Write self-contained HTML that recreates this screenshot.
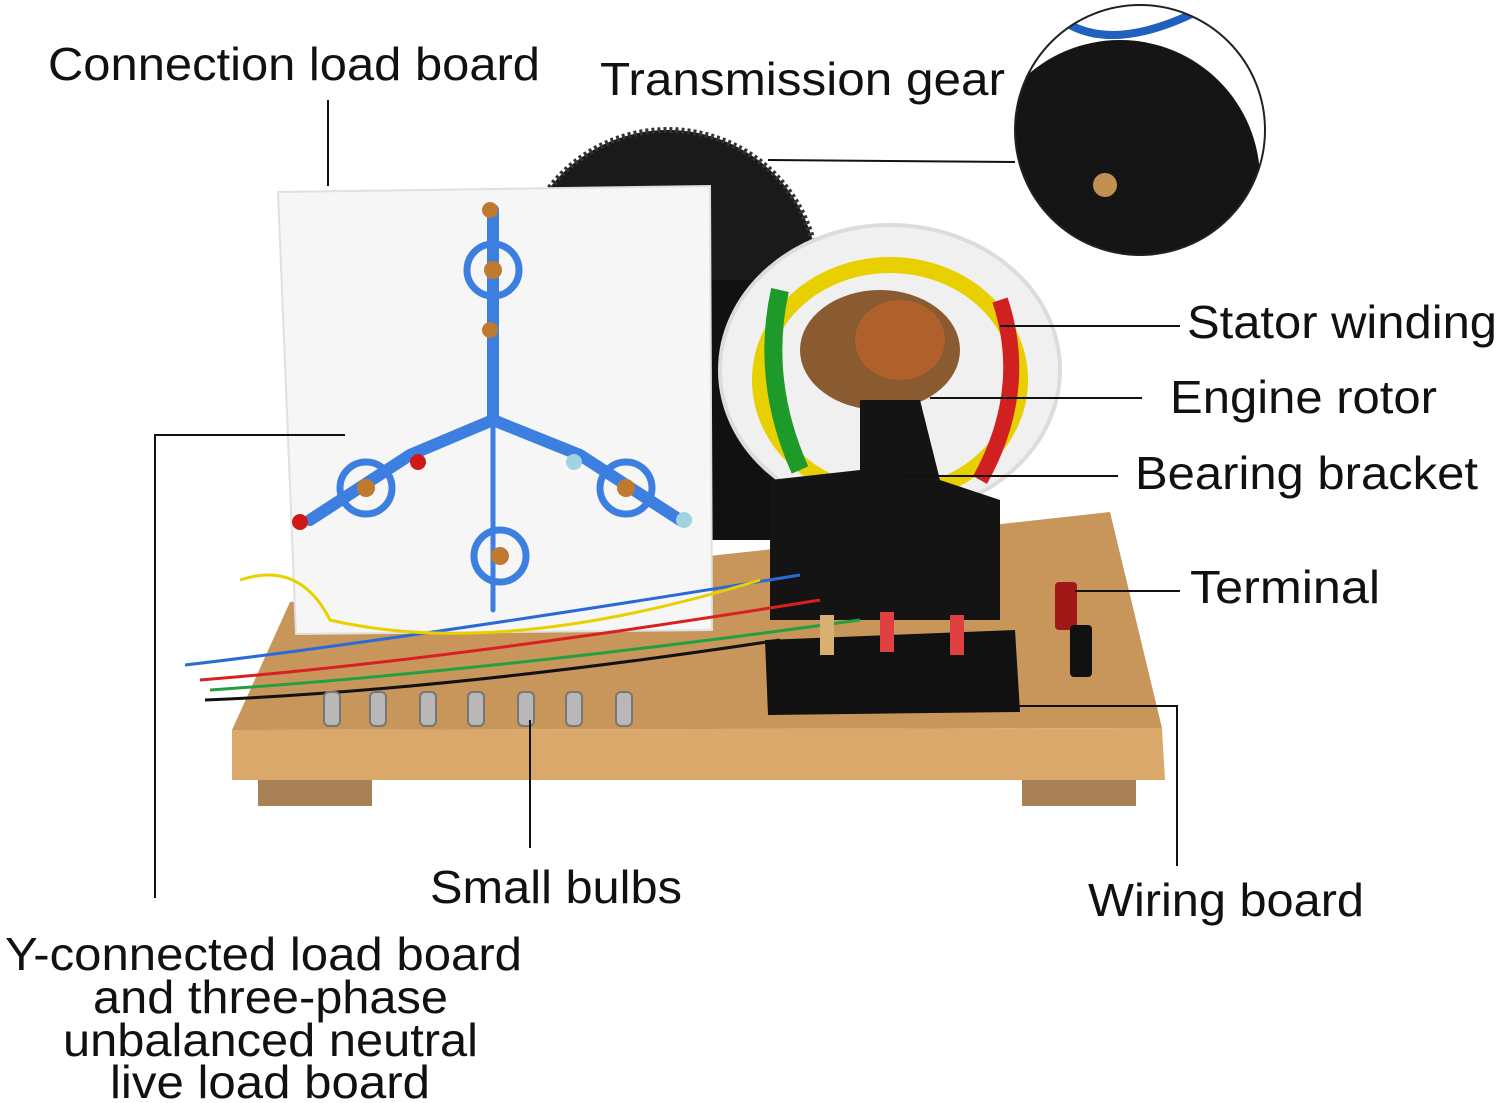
<!DOCTYPE html>
<html><head><meta charset="utf-8"><style>
html,body{margin:0;padding:0;background:#fff;}
svg{display:block;}
text{font-family:"Liberation Sans",sans-serif;font-size:46px;fill:#111;}
</style></head><body>
<svg width="1500" height="1103" viewBox="0 0 1500 1103" xmlns="http://www.w3.org/2000/svg">
<!-- base -->
<polygon points="290,602 1110,512 1162,728 232,730" fill="#c8955a"/>
<polygon points="232,730 1162,728 1165,780 232,780" fill="#d9a86a"/>
<rect x="258" y="780" width="114" height="26" fill="#a88055"/>
<rect x="1022" y="780" width="114" height="26" fill="#a88055"/>
<!-- gear -->
<circle cx="668" cy="280" r="150" fill="#1a1a1a" stroke="#333" stroke-width="6" stroke-dasharray="3 3"/>
<rect x="710" y="280" width="90" height="260" fill="#111"/>
<!-- stator -->
<ellipse cx="890" cy="370" rx="170" ry="145" fill="#f0f0f0" stroke="#dcdcdc" stroke-width="4"/>
<ellipse cx="890" cy="380" rx="130" ry="115" fill="none" stroke="#e8d000" stroke-width="16"/>
<path d="M780,290 Q760,380 800,470" stroke="#1e9a2a" stroke-width="18" fill="none"/>
<path d="M1000,300 Q1030,390 980,480" stroke="#d02020" stroke-width="16" fill="none"/>
<ellipse cx="880" cy="350" rx="80" ry="60" fill="#8a5a30"/>
<ellipse cx="900" cy="340" rx="45" ry="40" fill="#b0602a"/>
<!-- bracket -->
<polygon points="860,400 920,400 940,480 1000,500 1000,620 770,620 770,480 860,470" fill="#141414"/>
<!-- white board -->
<polygon points="278,192 710,186 712,630 296,634" fill="#f6f6f6" stroke="#e0e0e0" stroke-width="2"/>
<g stroke="#3d7fe0" stroke-width="12" fill="none" stroke-linecap="round">
<line x1="493" y1="210" x2="493" y2="420"/>
<polyline points="493,420 410,455 310,520"/>
<polyline points="493,420 580,455 680,520"/>
<line x1="493" y1="420" x2="493" y2="610" stroke-width="5"/>
<circle cx="493" cy="270" r="26" stroke-width="7"/>
<circle cx="366" cy="488" r="26" stroke-width="7"/>
<circle cx="626" cy="488" r="26" stroke-width="7"/>
<circle cx="500" cy="556" r="26" stroke-width="7"/>
</g>
<g fill="#c07a30"><circle cx="493" cy="270" r="9"/><circle cx="366" cy="488" r="9"/><circle cx="626" cy="488" r="9"/><circle cx="500" cy="556" r="9"/><circle cx="490" cy="210" r="8"/><circle cx="490" cy="330" r="8"/></g>
<g fill="#d01818"><circle cx="418" cy="462" r="8"/><circle cx="300" cy="522" r="8"/></g>
<g fill="#9fd4e0"><circle cx="574" cy="462" r="8"/><circle cx="684" cy="520" r="8"/></g>
<!-- wires -->
<g fill="none" stroke-width="3">
<path d="M185,665 Q400,640 800,575" stroke="#2a6ad8"/>
<path d="M200,680 Q450,660 820,600" stroke="#d82020"/>
<path d="M210,690 Q500,670 860,620" stroke="#20a040"/>
<path d="M240,580 Q300,560 330,620 Q500,660 760,580" stroke="#e8d000"/>
<path d="M205,700 Q450,690 780,640" stroke="#111"/>
</g>
<!-- wiring board -->
<polygon points="765,640 1015,630 1020,712 768,715" fill="#111"/>
<rect x="820" y="615" width="14" height="40" fill="#d8b070"/>
<rect x="880" y="612" width="14" height="40" fill="#e04040"/>
<rect x="950" y="615" width="14" height="40" fill="#e04040"/>
<!-- terminals -->
<rect x="1055" y="582" width="22" height="48" rx="4" fill="#a01818"/>
<rect x="1070" y="625" width="22" height="52" rx="4" fill="#111"/>
<!-- bulbs -->
<g fill="#b8b8b8" stroke="#777" stroke-width="2">
<rect x="324" y="692" width="16" height="34" rx="5"/><rect x="370" y="692" width="16" height="34" rx="5"/><rect x="420" y="692" width="16" height="34" rx="5"/><rect x="468" y="692" width="16" height="34" rx="5"/><rect x="518" y="692" width="16" height="34" rx="5"/><rect x="566" y="692" width="16" height="34" rx="5"/><rect x="616" y="692" width="16" height="34" rx="5"/>
</g>
<!-- inset -->
<clipPath id="ic"><circle cx="1140" cy="130" r="125"/></clipPath>
<circle cx="1140" cy="130" r="125" fill="#fff"/>
<g clip-path="url(#ic)"><circle cx="1120" cy="180" r="140" fill="#151515"/><path d="M1050,10 Q1100,60 1200,10" stroke="#2060c0" stroke-width="8" fill="none"/><circle cx="1105" cy="185" r="12" fill="#c09050"/></g>
<circle cx="1140" cy="130" r="125" fill="none" stroke="#222" stroke-width="2"/>
<!-- leader lines -->
<g stroke="#111" stroke-width="2" fill="none">
<line x1="328" y1="100" x2="328" y2="186"/>
<line x1="768" y1="160" x2="1015" y2="162"/>
<line x1="1000" y1="326" x2="1180" y2="326"/>
<line x1="930" y1="398" x2="1142" y2="398"/>
<line x1="905" y1="476" x2="1118" y2="476"/>
<line x1="1075" y1="591" x2="1180" y2="591"/>
<polyline points="1010,706 1177,706 1177,866"/>
<line x1="530" y1="720" x2="530" y2="848"/>
<polyline points="345,435 155,435 155,898"/>
</g>
<text x="48" y="80" textLength="492" lengthAdjust="spacingAndGlyphs">Connection load board</text>
<text x="600" y="95" textLength="405" lengthAdjust="spacingAndGlyphs">Transmission gear</text>
<text x="1187" y="338" textLength="310" lengthAdjust="spacingAndGlyphs">Stator winding</text>
<text x="1170" y="413" textLength="267" lengthAdjust="spacingAndGlyphs">Engine rotor</text>
<text x="1135" y="489" textLength="343" lengthAdjust="spacingAndGlyphs">Bearing bracket</text>
<text x="1190" y="603" textLength="190" lengthAdjust="spacingAndGlyphs">Terminal</text>
<text x="430" y="903" textLength="252" lengthAdjust="spacingAndGlyphs">Small bulbs</text>
<text x="1088" y="916" textLength="276" lengthAdjust="spacingAndGlyphs">Wiring board</text>
<text x="5" y="970" textLength="517" lengthAdjust="spacingAndGlyphs">Y-connected load board</text>
<text x="93" y="1013" textLength="355" lengthAdjust="spacingAndGlyphs">and three-phase</text>
<text x="63" y="1056" textLength="415" lengthAdjust="spacingAndGlyphs">unbalanced neutral</text>
<text x="110" y="1098" textLength="320" lengthAdjust="spacingAndGlyphs">live load board</text>
</svg>
</body></html>
